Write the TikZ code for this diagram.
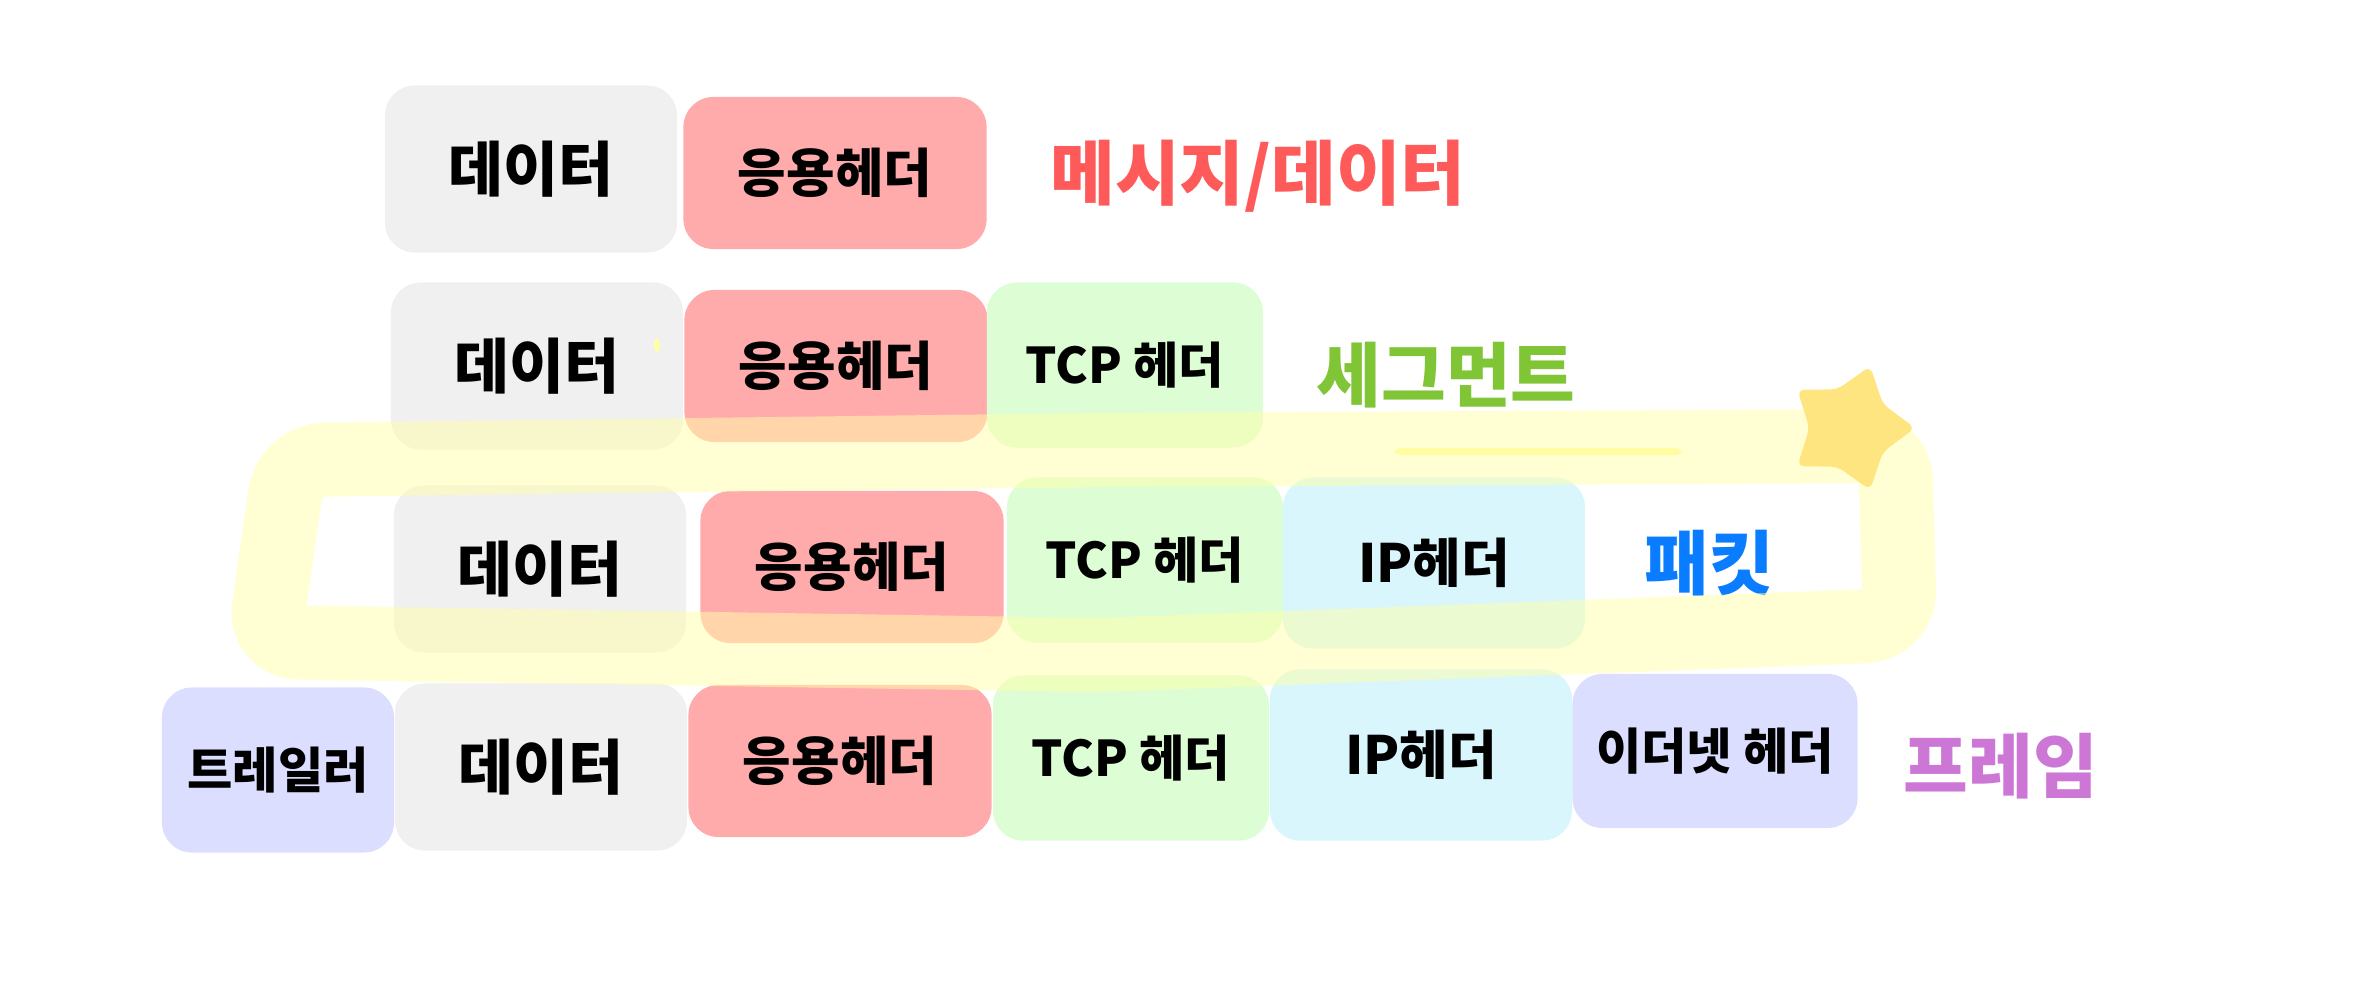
\documentclass[tikz,border=0pt]{standalone}
\usepackage{fontspec}
\setmainfont{Noto Sans CJK KR}
\usepackage{tikz}
\usetikzlibrary{positioning,shapes.geometric}

\definecolor{datagray}{HTML}{F0F0F0}
\definecolor{apppink}{HTML}{FFABAB}
\definecolor{tcpgreen}{HTML}{DDFDD5}
\definecolor{ipcyan}{HTML}{D8F6FC}
\definecolor{ethlav}{HTML}{DCDEFF}
\definecolor{msgred}{HTML}{FF5A5A}
\definecolor{seggreen}{HTML}{80C535}
\definecolor{pktblue}{HTML}{0A7CFF}
\definecolor{framepurple}{HTML}{CC77D5}
\definecolor{bandyellow}{HTML}{FFFFA8}
\definecolor{staryellow}{HTML}{FFE57F}
\definecolor{lineyellow}{HTML}{FFF99A}

\tikzset{
  layer/.style={rounded corners=0.3cm, inner sep=0pt, text=black},
  databox/.style={layer, fill=datagray, minimum width=2.92cm, minimum height=1.67cm,
    font=\bfseries\fontsize{17}{20}\selectfont},
  appbox/.style={layer, fill=apppink, minimum width=3.03cm, minimum height=1.52cm,
    font=\bfseries\fontsize{15}{18}\selectfont},
  tcpbox/.style={layer, fill=tcpgreen, minimum width=2.76cm, minimum height=1.65cm,
    font=\bfseries\fontsize{14}{17}\selectfont},
  ipbox/.style={layer, fill=ipcyan, minimum width=3.02cm, minimum height=1.71cm,
    font=\bfseries\fontsize{15}{18}\selectfont},
  ethbox/.style={layer, fill=ethlav, minimum width=2.85cm, minimum height=1.54cm,
    font=\bfseries\fontsize{14}{17}\selectfont},
  tagname/.style={font=\bfseries\fontsize{20}{24}\selectfont},
  band/.style={draw=bandyellow, draw opacity=0.5, line width=0.74cm,
    rounded corners=0.35cm, line cap=round, line join=round}
}

\begin{document}
\begin{tikzpicture}[x=0.01cm,y=-0.01cm]
    \useasboundingbox (0,0) rectangle (2355,1000);
    % row 1: message
    \node[databox] (data1) at (531,169) {데이터};
    \node[appbox] (app1) at (835,173) {응용헤더};
    \node[tagname, text=msgred] (msg) at (1258,176) {메시지/데이터};
    % row 2: segment
    \node[databox] (data2) at (537,366) {데이터};
    \node[appbox] (app2) at (836,366) {응용헤더};
    \node[tcpbox] (tcp2) at (1125,365) {TCP 헤더};
    \node[tagname, text=seggreen] (seg) at (1446,375) {세그먼트};
    \fill[lineyellow, rounded corners=2pt] (1394,448) rectangle (1682,455);
    \fill[bandyellow] (657,345) ellipse (3 and 7);
    % row 3: packet
    \node[databox] (data3) at (540,569) {데이터};
    \node[appbox] (app3) at (852,567) {응용헤더};
    \node[tcpbox] (tcp3) at (1145,560) {TCP 헤더};
    \node[ipbox] (ip3) at (1434,563) {IP헤더};
    \node[tagname, text=pktblue] (pkt) at (1709,563) {패킷};
    % row 4: frame
    \node[ethbox, minimum width=2.32cm, minimum height=1.65cm] (trail4) at (278,770) {트레일러};
    \node[databox] (data4) at (541,767) {데이터};
    \node[appbox] (app4) at (840,761) {응용헤더};
    \node[tcpbox] (tcp4) at (1131,758) {TCP 헤더};
    \node[ipbox] (ip4) at (1421,755) {IP헤더};
    \node[ethbox] (eth4) at (1715,751) {이더넷 헤더};
    \node[tagname, text=framepurple] (frm) at (2001,766) {프레임};
    % highlight round the packet
    \draw[band] (290,460) -- (1100,450) -- (1895,446) -- (1900,625)
        -- (1100,655) -- (264,642) -- cycle;
    \node[star, star points=5, star point ratio=1.6, minimum size=1.3cm,
        fill=staryellow, rounded corners=2pt, rotate=-18, inner sep=0pt] (mark) at (1850,428) {};
\end{tikzpicture}
\end{document}
